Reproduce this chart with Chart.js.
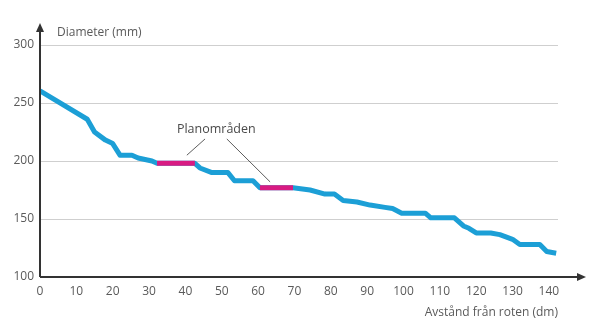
<!DOCTYPE html>
<html>
<head>
<meta charset="utf-8">
<script src="https://cdn.jsdelivr.net/npm/chart.js@4/dist/chart.umd.min.js"></script>
<style>
html,body{margin:0;padding:0;background:#fff;}
#wrap{width:600px;height:332px;position:relative;}
</style>
</head>
<body>
<div id="wrap"><canvas id="c" width="600" height="332"></canvas></div>
<script>
// Distance from root (dm) and diameter (mm)
const distance = [0, 13, 15, 18, 20, 22, 25.3, 27, 30.8, 32.2, 42.6, 44, 47.3, 51.7, 53.5, 58.6, 60.5, 69.6, 74.3, 78.4, 81, 83.4, 87.2, 90.8, 94.9, 97, 99.5, 106, 107.5, 114, 116.5, 118, 120, 124, 126.5, 130, 132, 137.5, 139.4, 142];
const diameter = [260.5, 236, 225, 218, 215, 205, 205, 202.6, 200, 198, 198, 194, 190, 190, 183, 183, 177, 177, 175, 171.5, 171.5, 166, 164.7, 162, 160, 159, 155, 155, 151, 151, 144, 142, 138, 138, 136.5, 132.5, 128, 128, 122, 120.5];
// Plane areas (Planområden)
const plane1X = [32.2, 42.6];
const plane1Y = [198, 198];
const plane2X = [60.5, 69.6];
const plane2Y = [177, 177];
const xTicks = [0,10,20,30,40,50,60,70,80,90,100,110,120,130,140];
const yTicks = [100,150,200,250,300];
const yTitle = 'Diameter (mm)';
const xTitle = 'Avstånd från roten (dm)';
const noteText = 'Planområden';

const toPts = (xs, ys) => xs.map((x, i) => ({x: x, y: ys[i]}));
const FONT = '"Open Sans", "Noto Sans", sans-serif';
const BLUE = '#1c9fd6';
const PINK = '#d81b82';

const extras = {
  id: 'extras',
  afterDraw(chart) {
    const ctx = chart.ctx, a = chart.chartArea;
    const xs = chart.scales.x, ys = chart.scales.y;
    ctx.save();
    // axes lines
    ctx.strokeStyle = '#333'; ctx.fillStyle = '#333'; ctx.lineWidth = 2;
    const ox = xs.getPixelForValue(0), oy = ys.getPixelForValue(100);
    ctx.beginPath(); ctx.moveTo(ox, oy); ctx.lineTo(a.right + 22, oy); ctx.stroke();
    ctx.beginPath(); ctx.moveTo(ox, oy); ctx.lineTo(ox, a.top - 16); ctx.stroke();
    // arrowheads
    ctx.beginPath();
    ctx.moveTo(a.right + 28, oy); ctx.lineTo(a.right + 19, oy - 4); ctx.lineTo(a.right + 19, oy + 4); ctx.closePath(); ctx.fill();
    ctx.beginPath();
    ctx.moveTo(ox, a.top - 22); ctx.lineTo(ox - 4, a.top - 13); ctx.lineTo(ox + 4, a.top - 13); ctx.closePath(); ctx.fill();
    // titles
    ctx.fillStyle = '#5a5a5a';
    ctx.font = '12px ' + FONT;
    ctx.textBaseline = 'middle';
    ctx.textAlign = 'left';
    ctx.fillText(yTitle, ox + 17, a.top - 12);
    ctx.textAlign = 'right';
    ctx.fillText(xTitle, a.right, oy + 36);
    // annotation
    ctx.font = '12.5px ' + FONT;
    ctx.textAlign = 'center';
    ctx.fillStyle = '#4a4a4a';
    ctx.fillText(noteText, xs.getPixelForValue(48.5), ys.getPixelForValue(227.5));
    ctx.strokeStyle = '#333'; ctx.lineWidth = 0.8;
    ctx.beginPath();
    ctx.moveTo(xs.getPixelForValue(40.4), ys.getPixelForValue(205));
    ctx.lineTo(xs.getPixelForValue(45.4), ys.getPixelForValue(219));
    ctx.moveTo(xs.getPixelForValue(51.4), ys.getPixelForValue(219));
    ctx.lineTo(xs.getPixelForValue(63.3), ys.getPixelForValue(182));
    ctx.stroke();
    ctx.restore();
  }
};

new Chart(document.getElementById('c'), {
  type: 'line',
  data: {
    datasets: [
      {data: toPts(plane1X, plane1Y), borderColor: PINK, borderWidth: 5, pointRadius: 0, order: 0},
      {data: toPts(plane2X, plane2Y), borderColor: PINK, borderWidth: 5, pointRadius: 0, order: 0},
      {data: toPts(distance, diameter), borderColor: BLUE, borderWidth: 5, pointRadius: 0, borderJoinStyle: 'round', order: 1}
    ]
  },
  options: {
    responsive: false,
    animation: false,
    parsing: false,
    layout: {padding: {left: 0, right: 42, top: 45, bottom: 0}},
    plugins: {legend: {display: false}, tooltip: {enabled: false}},
    scales: {
      x: {
        type: 'linear', min: 0, max: 142.5,
        afterBuildTicks: (s) => { s.ticks = xTicks.map(v => ({value: v})); },
        afterFit: (s) => { s.height = 55; },
        grid: {display: false, drawTicks: false},
        border: {display: false},
        ticks: {padding: 7, color: '#5a5a5a', font: {family: FONT, size: 12}, maxRotation: 0, autoSkip: false}
      },
      y: {
        type: 'linear', min: 100, max: 300,
        afterBuildTicks: (s) => { s.ticks = yTicks.map(v => ({value: v})); },
        afterFit: (s) => { s.width = 40; },
        grid: {color: '#cfcfcf', lineWidth: 1, drawTicks: false},
        border: {display: false},
        ticks: {padding: 6, color: '#5a5a5a', font: {family: FONT, size: 12}}
      }
    }
  },
  plugins: [extras]
});
</script>
</body>
</html>
